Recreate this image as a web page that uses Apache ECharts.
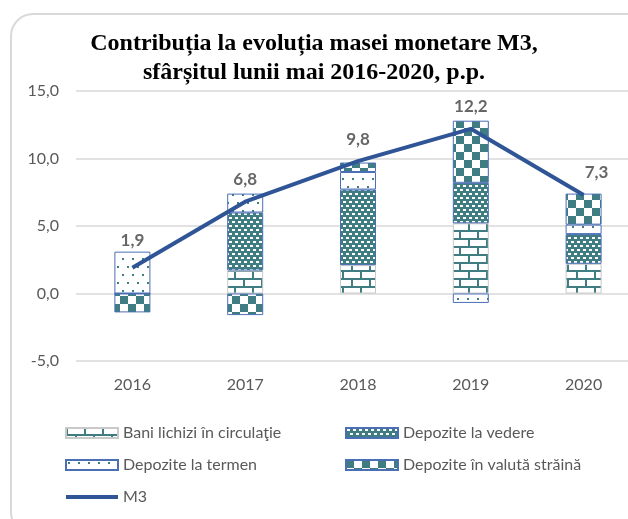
<!DOCTYPE html>
<html>
<head>
<meta charset="utf-8">
<title>Contribuția la evoluția masei monetare M3</title>
<script src="https://cdn.jsdelivr.net/npm/echarts@6/dist/echarts.min.js"></script>
<style>
  html, body { margin: 0; padding: 0; background: #fff; }
  #chart1 { width: 628px; height: 519px; }
</style>
</head>
<body>
<div id="chart1"></div>
<script>
  // date (p.p.)
  var years = ['2016', '2017', '2018', '2019', '2020'];
  var baniLichizi = [0.0, 1.7, 2.1, 5.2, 2.2];
  var depVedere = [0.0, 4.3, 5.6, 3.0, 2.2];
  var depTermen = [3.1, 1.4, 1.3, -0.7, 0.7];
  var depValuta = [-1.4, -1.6, 0.7, 4.6, 2.3];
  var m3 = [1.9, 6.8, 9.8, 12.2, 7.3];
  var yTicks = [-5, 0, 5, 10, 15];

  var teal = '#3f7d83';
  var blue = '#2f5597';

  // modele de hasura desenate pe canvas
  function pattern(w, h, draw) {
    var c = document.createElement('canvas');
    c.width = w; c.height = h;
    var g = c.getContext('2d');
    draw(g);
    return { image: c, repeat: 'repeat' };
  }
  var brick = pattern(18, 16, function (g) {
    g.fillStyle = '#fff'; g.fillRect(0, 0, 18, 16);
    g.fillStyle = teal;
    g.fillRect(0, 6, 18, 2); g.fillRect(0, 14, 18, 2);
    g.fillRect(0, 0, 2, 6); g.fillRect(9, 8, 2, 6);
  });
  var smallBrick = pattern(6, 8, function (g) {
    g.fillStyle = teal; g.fillRect(0, 0, 6, 8);
    g.fillStyle = '#fff';
    g.fillRect(1, 1, 3, 2); g.fillRect(4, 5, 2, 2); g.fillRect(0, 5, 1, 2);
  });
  var dots = pattern(10, 16, function (g) {
    g.fillStyle = '#fff'; g.fillRect(0, 0, 10, 16);
    g.fillStyle = teal;
    g.fillRect(2, 2, 2, 2); g.fillRect(7, 10, 2, 2);
  });
  var checker = pattern(16, 16, function (g) {
    g.fillStyle = '#fff'; g.fillRect(0, 0, 16, 16);
    g.fillStyle = teal;
    g.fillRect(0, 0, 8, 8); g.fillRect(8, 8, 8, 8);
  });

  var fmt = function (v) { return v.toFixed(1).replace('.', ','); };

  function barSeries(name, data, fill, border) {
    return {
      name: name,
      type: 'bar',
      stack: 'total',
      barWidth: 36,
      data: data,
      itemStyle: { color: fill, borderColor: border, borderWidth: 1 }
    };
  }

  var legendText = { fontSize: 16, color: '#595959' };

  var myChart = echarts.init(document.getElementById('chart1'));
  myChart.setOption({
    animation: false,
    backgroundColor: '#fff',
    textStyle: { fontFamily: 'Lato' },
    graphic: [{
      type: 'rect',
      shape: { x: 11, y: 14, width: 640, height: 520, r: 22 },
      style: { fill: 'none', stroke: '#d9d9d9', lineWidth: 2 },
      silent: true
    }],
    title: {
      text: 'Contribuția la evoluția masei monetare M3,\nsfârșitul lunii mai 2016-2020, p.p.',
      left: 'center',
      top: 24,
      textStyle: {
        fontFamily: 'Liberation Serif',
        fontWeight: 'bold',
        fontSize: 24,
        lineHeight: 29,
        color: '#000'
      }
    },
    legend: [{
      left: 59, top: 420, orient: 'vertical',
      itemWidth: 52, itemHeight: 10, itemGap: 16, itemTextGap: 7,
      textStyle: legendText,
      data: [
        { name: 'Bani lichizi în circulaţie', icon: 'rect' },
        { name: 'Depozite la termen', icon: 'rect' },
        { name: 'M3', itemStyle: { opacity: 0 }, lineStyle: { width: 4 } }
      ]
    }, {
      left: 340, top: 420, orient: 'vertical',
      itemWidth: 52, itemHeight: 10, itemGap: 16, itemTextGap: 7,
      textStyle: legendText,
      data: [
        { name: 'Depozite la vedere', icon: 'rect' },
        { name: 'Depozite în valută străină', icon: 'rect' }
      ]
    }],
    grid: { left: 76, right: -12, top: 91, bottom: 158, outerBoundsMode: 'none' },
    xAxis: {
      type: 'category',
      data: years,
      axisLine: { show: false },
      axisTick: { show: false },
      axisLabel: { fontSize: 16, color: '#595959', margin: 16 }
    },
    yAxis: {
      type: 'value',
      min: yTicks[0],
      max: yTicks[yTicks.length - 1],
      interval: 5,
      axisLabel: { fontSize: 16, color: '#595959', margin: 17, formatter: fmt },
      splitLine: { lineStyle: { color: '#d9d9d9', width: 1.5 } }
    },
    series: [
      barSeries('Bani lichizi în circulaţie', baniLichizi, brick, '#c9c9c9'),
      barSeries('Depozite la vedere', depVedere, smallBrick, '#4a6fb5'),
      barSeries('Depozite la termen', depTermen, dots, '#4a6fb5'),
      barSeries('Depozite în valută străină', depValuta, checker, '#4a6fb5'),
      {
        name: 'M3',
        type: 'line',
        data: m3,
        symbol: 'none',
        z: 5,
        lineStyle: { color: blue, width: 4 },
        itemStyle: { color: blue }
      },
      {
        // etichetele valorilor M3
        name: 'M3 etichete',
        type: 'scatter',
        data: m3,
        symbol: 'circle',
        symbolSize: 1,
        silent: true,
        z: 6,
        itemStyle: { color: 'rgba(0,0,0,0)' },
        label: {
          show: true,
          position: 'top',
          distance: 13,
          fontSize: 17,
          fontWeight: 'bold',
          color: '#404040',
          formatter: function (p) { return fmt(p.value); }
        },
        // etichetele 2016 si 2020 sunt mutate ca in original
        labelLayout: function (p) {
          if (p.dataIndex === 0) return { dy: -5 };
          if (p.dataIndex === 4) return { dx: 13 };
          return {};
        }
      }
    ]
  });
</script>
</body>
</html>
